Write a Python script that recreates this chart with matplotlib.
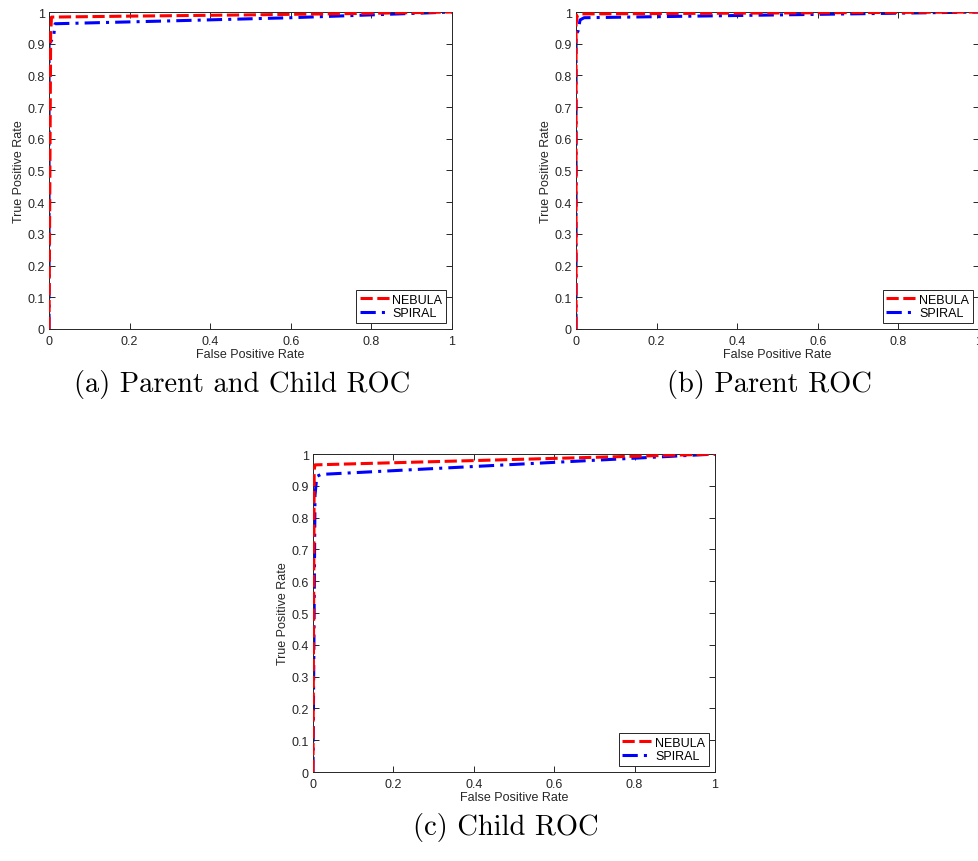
import matplotlib.pyplot as plt

plt.rcParams["font.family"] = ["Liberation Sans", "DejaVu Sans"]

# ROC curves (FPR, TPR)
fpr_a_nebula = [0, 0.004, 0.006, 0.2, 0.5, 0.8, 1.0]
tpr_a_nebula = [0, 0.93, 0.984, 0.987, 0.991, 0.996, 1.0]
fpr_a_spiral = [0, 0, 0.006, 0.012, 0.015, 0.3, 0.6, 1.0]
tpr_a_spiral = [0, 0.90, 0.91, 0.93, 0.963, 0.972, 0.982, 1.0]

fpr_b_nebula = [0, 0, 0.003, 0.01, 1.0]
tpr_b_nebula = [0, 0.96, 0.99, 0.994, 1.0]
fpr_b_spiral = [0, 0, 0.005, 0.01, 0.02, 1.0]
tpr_b_spiral = [0, 0.93, 0.94, 0.975, 0.982, 1.0]

fpr_c_nebula = [0, 0.003, 0.005, 1.0]
tpr_c_nebula = [0, 0.95, 0.966, 1.0]
fpr_c_spiral = [0, 0.005, 0.008, 0.01, 0.02, 1.0]
tpr_c_spiral = [0, 0.87, 0.91, 0.93, 0.936, 1.0]

ticks = [0, 0.2, 0.4, 0.6, 0.8, 1]
yticks = [0, 0.1, 0.2, 0.3, 0.4, 0.5, 0.6, 0.7, 0.8, 0.9, 1]
tick_labels = ["0", "0.2", "0.4", "0.6", "0.8", "1"]
ytick_labels = ["0", "0.1", "0.2", "0.3", "0.4", "0.5", "0.6", "0.7", "0.8", "0.9", "1"]

captions = ["(a) Parent and Child ROC", "(b) Parent ROC", "(c) Child ROC"]

AX_COLOR = "#262626"

fig = plt.figure(figsize=(9.79, 8.62), dpi=100)

positions = [
    [0.0501, 0.6172, 0.4116, 0.3677],
    [0.5884, 0.6172, 0.4116, 0.3677],
    [0.3197, 0.1032, 0.4106, 0.3689],
]
curves = [
    (fpr_a_nebula, tpr_a_nebula, fpr_a_spiral, tpr_a_spiral),
    (fpr_b_nebula, tpr_b_nebula, fpr_b_spiral, tpr_b_spiral),
    (fpr_c_nebula, tpr_c_nebula, fpr_c_spiral, tpr_c_spiral),
]

for pos, (xn, yn, xs, ys), cap in zip(positions, curves, captions):
    ax = fig.add_axes(pos)
    ax.plot(xn, yn, color="#ff0000", linestyle=(0, (4, 1.5)), linewidth=2.2,
            label="NEBULA", zorder=3)
    ax.plot(xs, ys, color="#0000ff", linestyle=(0, (5, 2, 1, 2)), linewidth=2.2,
            label="SPIRAL", zorder=2)
    ax.set_xlim(0, 1)
    ax.set_ylim(0, 1)
    ax.set_xticks(ticks)
    ax.set_xticklabels(tick_labels)
    ax.set_yticks(yticks)
    ax.set_yticklabels(ytick_labels)
    ax.tick_params(direction="in", top=True, right=True, length=4, width=0.7,
                   labelsize=9, colors=AX_COLOR, pad=3)
    ax.tick_params(axis="x", pad=4)
    for s in ax.spines.values():
        s.set_color(AX_COLOR)
        s.set_linewidth(0.7)
    ax.set_xlabel("False Positive Rate", fontsize=9, color=AX_COLOR, labelpad=1)
    ax.set_ylabel("True Positive Rate", fontsize=9, color=AX_COLOR, labelpad=2)
    leg = ax.legend(loc="lower right", fontsize=9, handlelength=2.4,
                    handletextpad=0.2, borderpad=0.3, labelspacing=0.1,
                    fancybox=False, framealpha=1, borderaxespad=0.5)
    leg.get_frame().set_edgecolor(AX_COLOR)
    leg.get_frame().set_linewidth(0.7)
    x0 = pos[0] + pos[2] / 2 - 8 / 979
    fig.text(x0, pos[1] - 0.063, cap, family="cmr10", fontsize=20.5,
             ha="center", va="center", color="black")

fig.savefig("out.png", dpi=100)
